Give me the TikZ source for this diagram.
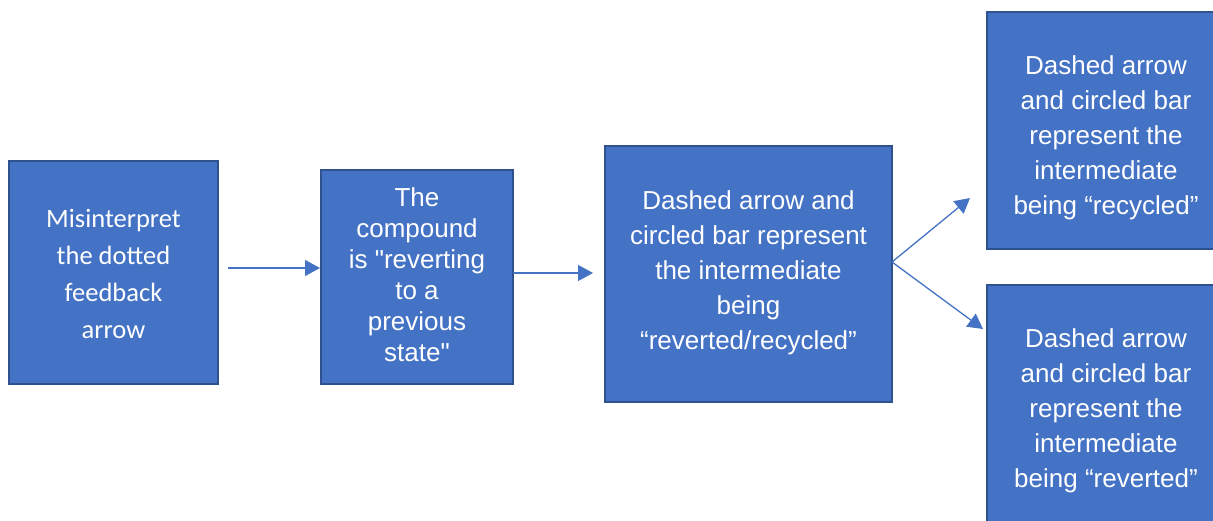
\documentclass[tikz,border=0pt]{standalone}
\usepackage{fontspec}
\setmainfont{Liberation Sans}
\newfontfamily\calib{Carlito}
\usetikzlibrary{arrows.meta,calc}
\definecolor{boxfill}{HTML}{4472C4}
\definecolor{boxline}{HTML}{2F528F}
\tikzset{
  box/.style={draw=boxline,fill=boxfill,line width=2pt,inner sep=0pt},
  txt/.style={text=white,align=center,inner sep=0pt},
  conn/.style={draw=boxfill,line width=1.3pt,-{Triangle[length=15pt,width=16pt]}}
}
\begin{document}
\begin{tikzpicture}[x=1pt,y=-1pt]
\useasboundingbox (0,0) rectangle (1213,520);
% boxes
\node[box,minimum width=209pt,minimum height=223pt] (b1) at (113.5,272.5) {};
\node[box,minimum width=192pt,minimum height=214pt] (b2) at (417,277) {};
\node[box,minimum width=287pt,minimum height=256pt] (b3) at (748.5,274) {};
\node[box,minimum width=238pt,minimum height=237pt] (b4) at (1106,130.5) {};
\node[box,minimum width=238pt,minimum height=237pt] (b5) at (1106,403.5) {};
% texts
\node[txt,font=\calib\fontsize{26.5}{37}\selectfont] (t1) at ($(b1.center)+(0,1)$) {Misinterpret\\the dotted\\feedback\\arrow};
\node[txt,font=\fontsize{26}{31}\selectfont] (t2) at ($(b2.center)+(0,-2)$) {The\\compound\\is \textquotedbl reverting\\to a\\previous\\state\textquotedbl};
\node[txt,font=\fontsize{26}{35}\selectfont] (t3) at ($(b3.center)+(0,-1)$) {Dashed arrow and\\circled bar represent\\the intermediate\\being\\“reverted/recycled”};
\node[txt,font=\fontsize{26}{35}\selectfont] (t4) at ($(b4.center)+(0,7)$) {Dashed arrow\\and circled bar\\represent the\\intermediate\\being “recycled”};
\node[txt,font=\fontsize{26}{35}\selectfont] (t5) at ($(b5.center)+(0,7)$) {Dashed arrow\\and circled bar\\represent the\\intermediate\\being “reverted”};
% connectors
\coordinate (s1) at (228,268);
\coordinate (s2) at (513,273);
\coordinate (e2) at (593,273);
\coordinate (s3) at (892,262);
\coordinate (e3) at (970,198);
\coordinate (e4) at (983,329);
\draw[conn] (s1) -- (b2.west |- s1);
\draw[conn] (s2) -- (e2);
\draw[conn] (s3) -- (e3);
\draw[conn] (s3) -- (e4);
\end{tikzpicture}
\end{document}
